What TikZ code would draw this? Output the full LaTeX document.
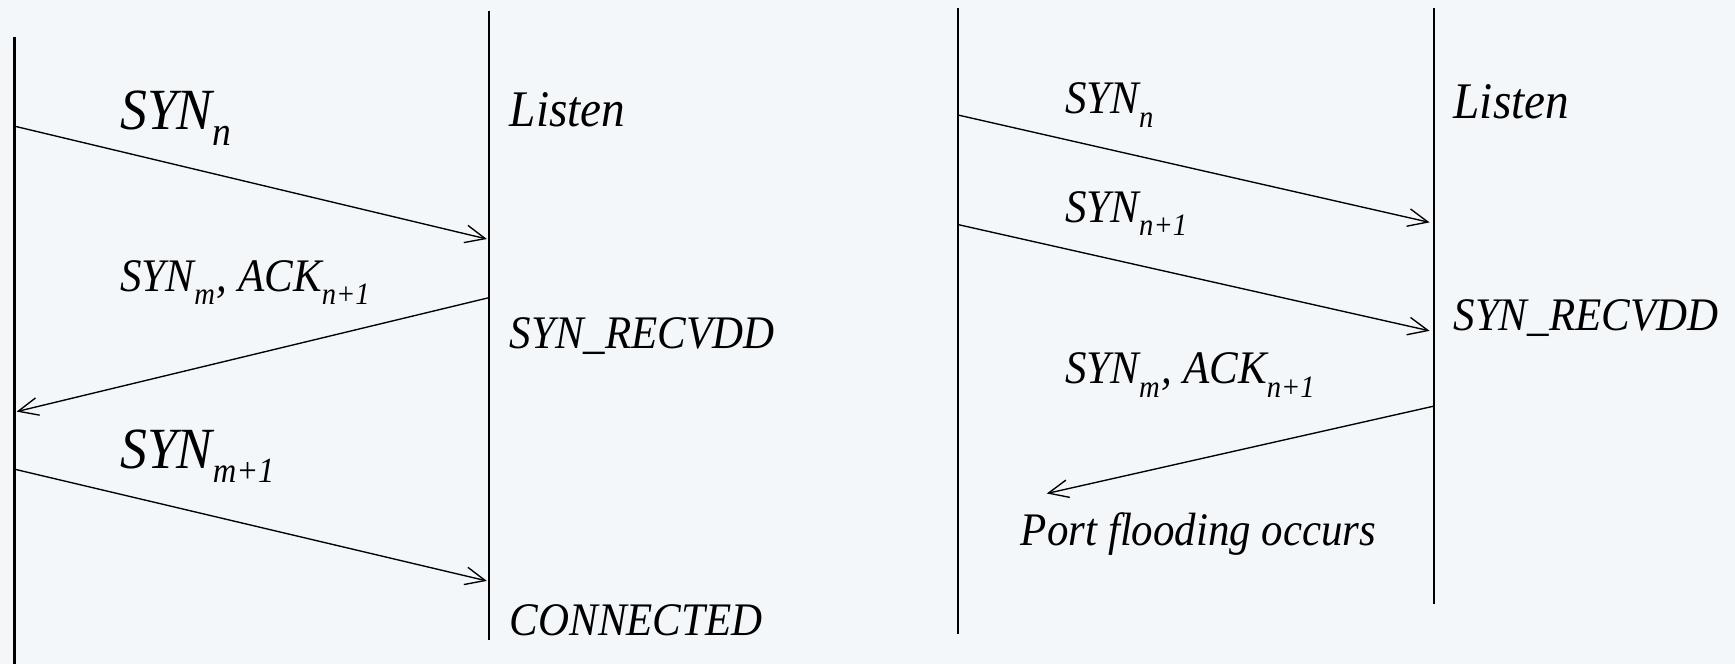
\documentclass[tikz,border=0pt]{standalone}
\usepackage{fontspec}
\setmainfont{Liberation Serif}[FakeStretch=0.92]
\usepackage{xcolor}
\usetikzlibrary{arrows.meta,positioning}
\definecolor{paper}{RGB}{243,247,250}
\newcommand{\subidx}[1]{\raisebox{-0.3ex}{\textsubscript{#1}}}
\tikzset{
  lifeline/.style={line width=0.6pt},
  message/.style={-{Straight Barb[length=1.8mm,width=1.6mm]},line width=0.35pt},
  statetext/.style={anchor=base west,inner sep=0pt,font=\itshape\fontsize{12}{14}\selectfont},
  listentext/.style={statetext,font=\itshape\fontsize{13.2}{15}\selectfont},
  msgtext/.style={anchor=base west,inner sep=0pt,font=\itshape\fontsize{12}{14}\selectfont},
  bigtext/.style={msgtext,font=\itshape\fontsize{15}{17}\selectfont}
}

\begin{document}
\begin{tikzpicture}
  \fill[paper] (0,0) rectangle (15.68,6.00);
  \useasboundingbox (0,0) rectangle (15.68,6.00);

  % handshake that completes
  \coordinate (cltop) at (0.13,5.67);
  \coordinate (clbot) at (0.13,0);
  \coordinate (svtop) at (4.42,5.90);
  \coordinate (svbot) at (4.42,0.22);
  \draw[lifeline] (cltop) -- (clbot);
  \draw[lifeline] (svtop) -- (svbot);

  \coordinate (s1) at (0.13,4.86);
  \coordinate (r1) at (4.40,3.84);
  \coordinate (s2) at (4.42,3.31);
  \coordinate (r2) at (0.15,2.28);
  \coordinate (s3) at (0.13,1.76);
  \coordinate (r3) at (4.40,0.75);
  \draw[message] (s1) -- (r1);
  \draw[message] (s2) -- (r2);
  \draw[message] (s3) -- (r3);

  \node (synn) [bigtext] at (1.08,4.83) {SYN\subidx{n}};
  \node (synack) [msgtext] at (1.08,3.37) {SYN\subidx{m}, ACK\subidx{n+1}};
  \node (synm) [bigtext] at (1.08,1.77) {SYN{\fontsize{13}{15}\selectfont\subidx{m+1}}};
  \node (listen) [listentext] at (4.60,4.86) {Listen};
  \node (recv) [statetext] at (4.60,2.85) {SYN\_RECVDD};
  \node (conn) [statetext] at (4.60,0.26) {CONNECTED};

  % handshake left half open
  \coordinate (attop) at (8.66,5.93);
  \coordinate (atbot) at (8.66,0.27);
  \coordinate (vttop) at (12.96,5.93);
  \coordinate (vtbot) at (12.96,0.54);
  \draw[lifeline] (attop) -- (atbot);
  \draw[lifeline] (vttop) -- (vtbot);

  \coordinate (a1) at (8.66,4.96);
  \coordinate (b1) at (12.92,3.99);
  \coordinate (a2) at (8.66,3.97);
  \coordinate (b2) at (12.92,3.01);
  \coordinate (a3) at (12.96,2.33);
  \coordinate (b3) at (9.46,1.54);
  \draw[message] (a1) -- (b1);
  \draw[message] (a2) -- (b2);
  \draw[message] (a3) -- (b3);

  \node (flsynn) [msgtext] at (9.62,4.97) {SYN\subidx{n}};
  \node (flsynn1) [msgtext] at (9.62,3.99) {SYN\subidx{n+1}};
  \node (flsynack) [msgtext] at (9.62,2.53) {SYN\subidx{m}, ACK\subidx{n+1}};
  \node (flood) [msgtext] at (9.22,1.07) {Port flooding occurs};
  \node (fllisten) [listentext] at (13.13,4.93) {Listen};
  \node (flrecv) [statetext] at (13.13,3.01) {SYN\_RECVDD};
\end{tikzpicture}
\end{document}
